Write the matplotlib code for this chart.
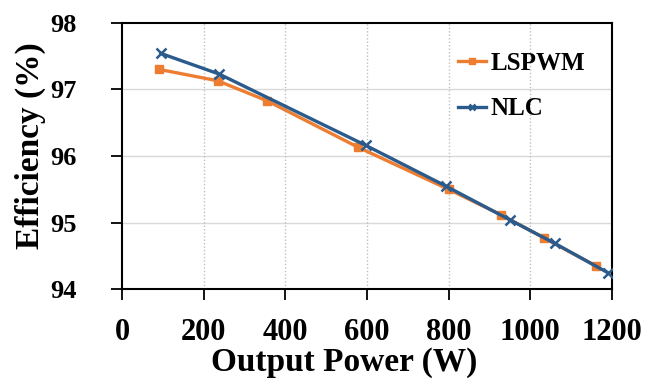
import matplotlib
matplotlib.use('Agg')
import matplotlib.pyplot as plt

# values
lspwm_power = [91, 234, 355, 579, 800, 928, 1034, 1161]
lspwm_eff = [97.30, 97.13, 96.83, 96.13, 95.50, 95.12, 94.77, 94.35]
nlc_power = [95, 238, 597, 793, 951, 1060, 1190]
nlc_eff = [97.54, 97.23, 96.16, 95.55, 95.04, 94.69, 94.25]

x_ticks = [0, 200, 400, 600, 800, 1000, 1200]
y_ticks = [94, 95, 96, 97, 98]

plt.rcParams['font.family'] = ['Liberation Serif', 'DejaVu Serif']
plt.rcParams['font.weight'] = 'bold'

fig = plt.figure(figsize=(6.6, 3.86), dpi=100)
ax = fig.add_axes([0.185, 0.2505, 0.742, 0.6905])

# grid: solid horizontal, dotted vertical
for v in y_ticks[1:-1]:
    ax.axhline(v, color='#D9D9D9', lw=1.0, zorder=0)
for v in x_ticks[1:-1]:
    ax.axvline(v, color='#BFBFBF', lw=1.0, ls=(0, (1, 1.5)), zorder=0)

ax.plot(lspwm_power, lspwm_eff, color='#ED7D31', lw=2.4, marker='s',
        markersize=6, label='LSPWM', zorder=3)
ax.plot(nlc_power, nlc_eff, color='#2A5B8C', lw=2.4, marker='x',
        markersize=7, markeredgewidth=1.8, label='NLC', zorder=4)

ax.set_xlim(0, 1200)
ax.set_ylim(94, 98)
ax.set_xticks(x_ticks)
ax.set_yticks(y_ticks)
ax.tick_params(axis='both', direction='out', length=8, width=1.3, color='black')
ax.tick_params(axis='x', labelsize=22, pad=13)
ax.tick_params(axis='y', labelsize=19, pad=25)
for s in ax.spines.values():
    s.set_color('black')
    s.set_linewidth(1.5)

ax.set_xlabel('Output Power (W)', fontsize=24, fontweight='bold')
ax.xaxis.set_label_coords(0.453, -0.215)
ax.set_ylabel('Efficiency (%)', fontsize=24, fontweight='bold')
ax.yaxis.set_label_coords(-0.155, 0.54)

ax.legend(loc='upper left', bbox_to_anchor=(0.64, 0.975), frameon=False,
          fontsize=18, handlelength=1.1, handletextpad=0.2, labelspacing=0.9,
          markerscale=0.7)

fig.savefig('out.png', dpi=100)
